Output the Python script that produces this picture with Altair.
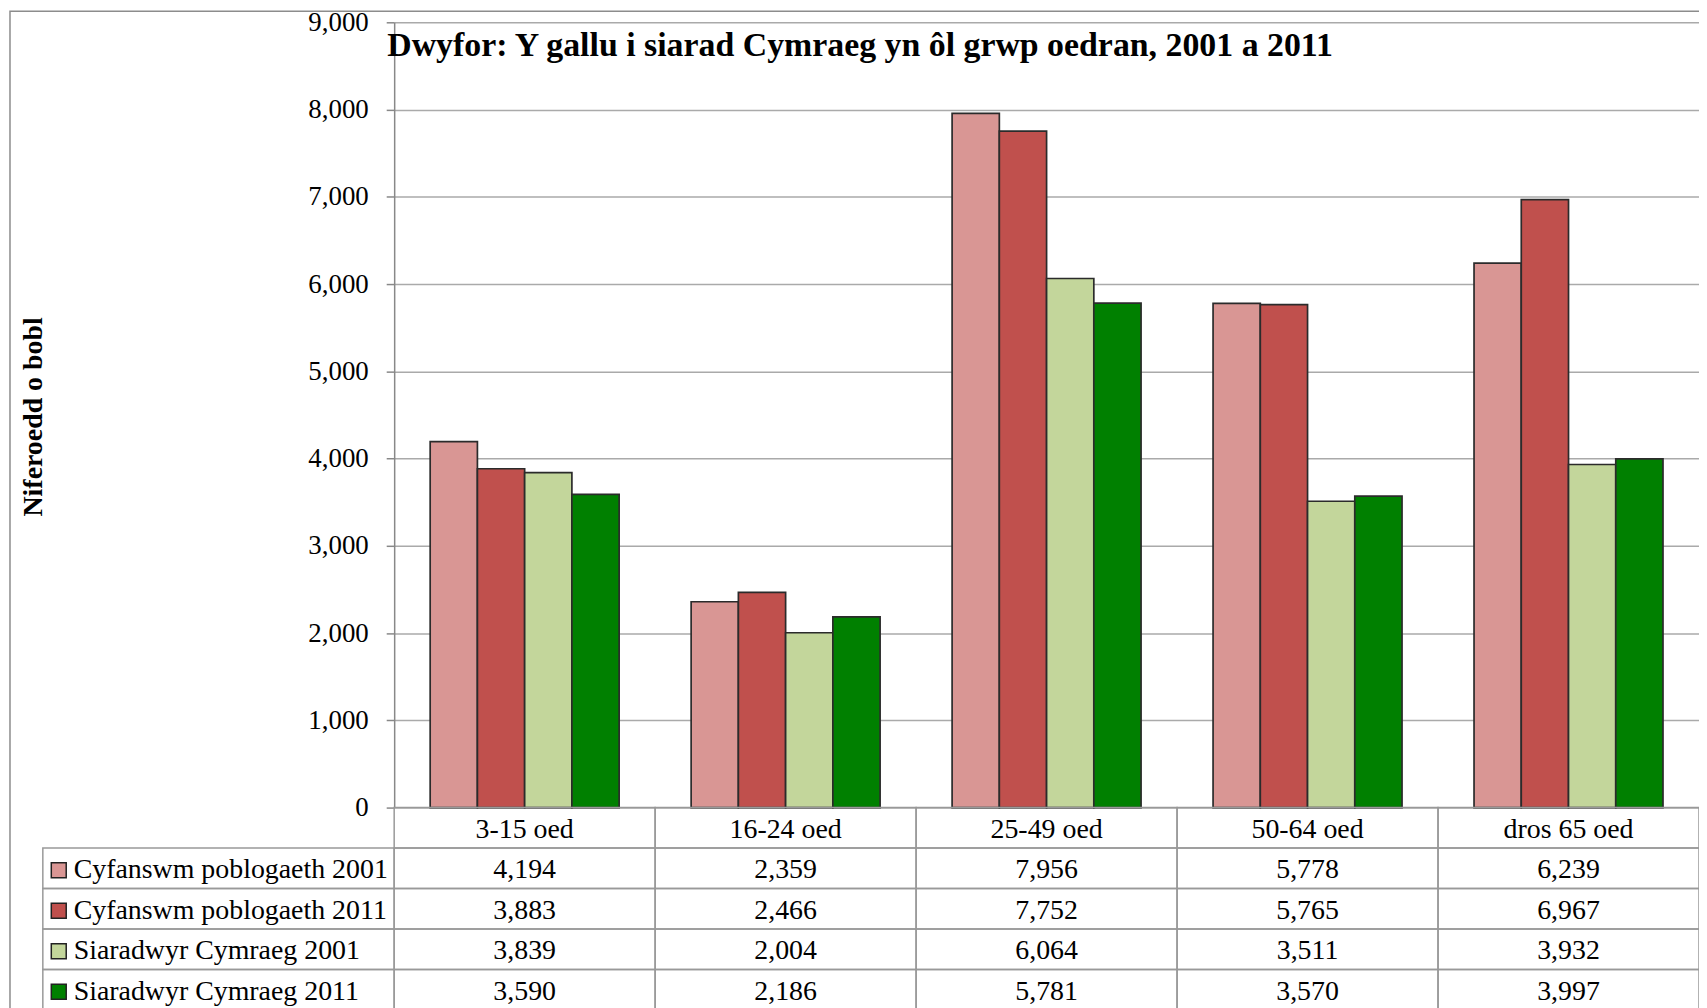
import altair as alt
import pandas as pd

# ---- data ----
categories = ["3-15 oed", "16-24 oed", "25-49 oed", "50-64 oed", "dros 65 oed"]
series = [
    "Cyfanswm poblogaeth 2001",
    "Cyfanswm poblogaeth 2011",
    "Siaradwyr Cymraeg 2001",
    "Siaradwyr Cymraeg 2011",
]
pop_2001 = [4194, 2359, 7956, 5778, 6239]
pop_2011 = [3883, 2466, 7752, 5765, 6967]
speakers_2001 = [3839, 2004, 6064, 3511, 3932]
speakers_2011 = [3590, 2186, 5781, 3570, 3997]
colors = ["#D99694", "#C0504D", "#C3D69B", "#008000"]
y_ticks = [0, 1000, 2000, 3000, 4000, 5000, 6000, 7000, 8000, 9000]
chart_title = "Dwyfor: Y gallu i siarad Cymraeg yn ôl grwp oedran, 2001 a 2011"
y_title = "Niferoedd o bobl"
header_key = "pennawd"

# ---- tables built from the arrays ----
values = [pop_2001, pop_2011, speakers_2001, speakers_2011]
rows = []
for s, vals in zip(series, values):
    for c, v in zip(categories, vals):
        rows.append({"cat": c, "series": s, "value": v, "row": s, "text": f"{v:,}"})
bars_df = pd.DataFrame(rows)
header_df = pd.DataFrame({"cat": categories, "row": header_key, "text": categories})
table_df = pd.concat([header_df, bars_df[["cat", "row", "text"]]], ignore_index=True)
label_df = pd.DataFrame({"col": ["lbl"] * len(series), "row": series})

# ---- layout ----
W, H = 1311, 789
ROW_H = 40.7
FONT = "Liberation Serif"
row_domain = [header_key] + series
table_y = alt.Scale(domain=row_domain, range=[H, H + ROW_H * len(row_domain)],
                    paddingInner=0, paddingOuter=0)
x_scale = alt.Scale(domain=categories, paddingInner=0, paddingOuter=0)

frame = alt.Chart(pd.DataFrame({"k": [0]})).mark_rect(
    fillOpacity=0, stroke="#8c8c8c", strokeWidth=1.5
).encode(x=alt.value(-386), x2=alt.value(W + 100), y=alt.value(-11), y2=alt.value(H + 400))

bars = alt.Chart(bars_df).mark_bar(stroke="#2b2b2b", strokeWidth=1.7).encode(
    x=alt.X("cat:N", sort=categories, scale=x_scale, axis=None),
    xOffset=alt.XOffset("series:N", sort=series,
                        scale=alt.Scale(domain=series, paddingInner=0, paddingOuter=0.762)),
    y=alt.Y(
        "value:Q",
        scale=alt.Scale(domain=[0, 9000], nice=False),
        axis=alt.Axis(
            values=y_ticks, format=",.0f", title=y_title,
            titleFont=FONT, titleFontSize=28, titleFontWeight="bold", titleColor="black",
            titleAngle=270, titleX=-354, titleY=396, titleAlign="center",
            titleBaseline="alphabetic",
            labelFont=FONT, labelFontSize=27, labelColor="black", labelPadding=18,
            tickSize=8, tickColor="#888888", tickWidth=1.5,
            domainColor="#888888", domainWidth=1.5,
            grid=True, gridColor="#aaaaaa", gridWidth=1.5,
        ),
    ),
    color=alt.Color(
        "series:N", sort=series, title=None,
        scale=alt.Scale(domain=series, range=colors),
        legend=alt.Legend(
            orient="none", legendX=-351, legendY=838, direction="vertical",
            symbolType="square", symbolSize=225, symbolStrokeColor="#222222",
            symbolStrokeWidth=1.5, symbolOpacity=1,
            labelFont=FONT, labelFontSize=28, labelColor="black", labelOffset=1,
            labelLimit=400, rowPadding=12.7, padding=0,
        ),
    ),
)

cells = alt.Chart(table_df).mark_rect(fillOpacity=0, stroke="#999999", strokeWidth=1.5).encode(
    x=alt.X("cat:N", sort=categories, scale=x_scale, axis=None),
    y=alt.Y("row:N", sort=row_domain, scale=table_y, axis=None),
)

label_cells = alt.Chart(label_df).mark_rect(fillOpacity=0, stroke="#999999", strokeWidth=1.5).encode(
    x=alt.X("col:N", scale=alt.Scale(domain=["lbl"], range=[-353, 0], paddingInner=0, paddingOuter=0),
            axis=None),
    y=alt.Y("row:N", sort=row_domain, scale=table_y, axis=None),
)

texts = alt.Chart(table_df).mark_text(font=FONT, fontSize=28, color="black", baseline="middle",
                                      dy=2).encode(
    x=alt.X("cat:N", sort=categories, scale=x_scale, axis=None),
    y=alt.Y("row:N", sort=row_domain, scale=table_y, axis=None),
    text="text:N",
)

chart = alt.layer(frame, bars, cells, label_cells, texts).resolve_scale(
    x="independent", y="independent"
).properties(
    width=W, height=H,
    title=alt.Title(chart_title, anchor="start", frame="group", font=FONT, fontSize=34,
                    fontWeight="bold", color="black", baseline="alphabetic",
                    dx=-7, dy=82, offset=0),
    autosize=alt.AutoSizeParams(type="none"),
    padding={"left": 388, "top": 12, "right": 0, "bottom": 199},
    background="white",
).configure_view(strokeWidth=0)

chart.save("out.html", embed_options={"renderer": "svg", "actions": False})
